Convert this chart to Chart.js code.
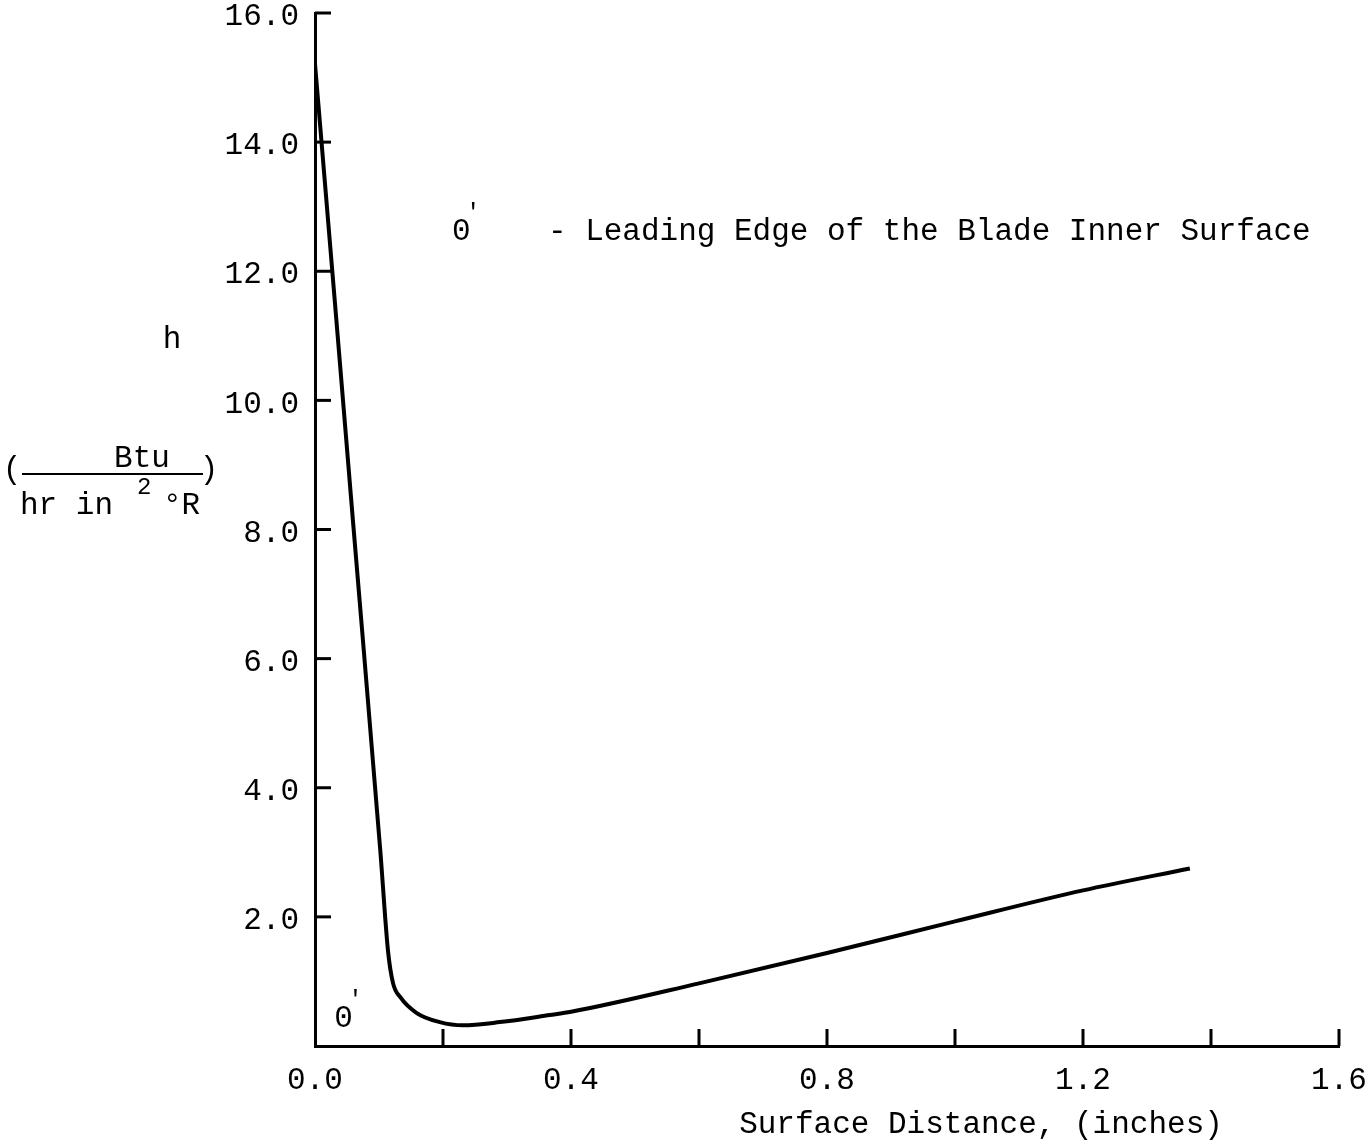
<!DOCTYPE html>
<html lang="en">
<head>
    <meta charset="UTF-8">
    <title>Heat Transfer Coefficient vs Surface Distance</title>
    <script src="https://cdn.jsdelivr.net/npm/chart.js"></script>
    <style>
        html, body { margin: 0; padding: 0; background: #fff; }
        #wrap { width: 1368px; height: 1142px; position: relative; }
    </style>
</head>
<body>
    <div id="wrap"><canvas id="hChart" width="1368" height="1142"></canvas></div>
    <script>
        // Surface distance (inches) and film coefficient h (Btu / hr in^2 °R)
        const surfaceDistance = [0.0, 0.031, 0.06, 0.102, 0.114, 0.122, 0.133, 0.159, 0.195, 0.231, 0.289, 0.367, 0.4, 0.6, 0.8, 1.0, 1.2, 1.367];
        const hValues = [15.21, 11.53, 8.05, 3.03, 1.48, 0.97, 0.76, 0.51, 0.37, 0.32, 0.37, 0.48, 0.53, 0.97, 1.44, 1.93, 2.41, 2.75];

        const xMin = 0, xMax = 1.6, xStep = 0.2;
        const yMin = 0, yMax = 16, yStep = 2;

        const FONT = "'Liberation Mono', 'DejaVu Sans Mono', monospace";
        const FS = 31;      // free text
        const TICK_FS = 31; // tick labels

        const points = surfaceDistance.map((x, i) => ({ x: x, y: hValues[i] }));

        // draws inward tick marks and the free text of the figure
        const extrasPlugin = {
            id: 'extras',
            afterDraw(chart) {
                const { ctx, chartArea, scales } = chart;
                const xs = scales.x, ys = scales.y;
                ctx.save();
                ctx.strokeStyle = '#000';
                ctx.lineWidth = 3;
                // x ticks pointing up into the plot
                for (let v = xMin + xStep; v <= xMax + 1e-9; v += xStep) {
                    const px = xs.getPixelForValue(v);
                    ctx.beginPath();
                    ctx.moveTo(px, chartArea.bottom);
                    ctx.lineTo(px, chartArea.bottom - 17);
                    ctx.stroke();
                }
                // y ticks pointing right
                for (let v = yMin + yStep; v <= yMax + 1e-9; v += yStep) {
                    const py = ys.getPixelForValue(v);
                    ctx.beginPath();
                    ctx.moveTo(chartArea.left, py);
                    ctx.lineTo(chartArea.left + 16, py);
                    ctx.stroke();
                }

                ctx.fillStyle = '#000';
                ctx.font = FS + 'px ' + FONT;
                ctx.textBaseline = 'alphabetic';

                // annotation
                const ax = xs.getPixelForValue(0.214), ay = ys.getPixelForValue(12.49);
                ctx.textAlign = 'left';
                ctx.fillText('0', ax, ay);
                ctx.font = '24px ' + FONT;
                ctx.fillText("'", ax + 14, ay - 20);
                ctx.font = FS + 'px ' + FONT;
                ctx.fillText('- Leading Edge of the Blade Inner Surface', ax + 96, ay);

                // 0' marker at the leading edge
                const mx = xs.getPixelForValue(0.03), my = ys.getPixelForValue(0.3);
                ctx.fillText('0', mx, my);
                ctx.font = '24px ' + FONT;
                ctx.fillText("'", mx + 14, my - 20);
                ctx.font = FS + 'px ' + FONT;

                // y axis label
                ctx.textAlign = 'center';
                ctx.fillText('h', 172, 348);
                ctx.fillText('Btu', 142, 467);
                ctx.fillText('(', 12, 478);
                ctx.fillText(')', 209, 478);
                ctx.textAlign = 'left';
                ctx.fillText('hr in', 20, 514);
                ctx.font = '24px ' + FONT;
                ctx.fillText('2', 137, 494);
                ctx.font = FS + 'px ' + FONT;
                ctx.fillText('\u00B0R', 163, 514);
                ctx.lineWidth = 2;
                ctx.beginPath();
                ctx.moveTo(22, 474);
                ctx.lineTo(203, 474);
                ctx.stroke();

                // x axis label
                ctx.textAlign = 'center';
                ctx.fillText('Surface Distance, (inches)', 981, 1133);
                ctx.restore();
            }
        };

        new Chart(document.getElementById('hChart'), {
            type: 'scatter',
            data: {
                datasets: [{
                    data: points,
                    showLine: true,
                    borderColor: '#000',
                    borderWidth: 4,
                    pointRadius: 0,
                    cubicInterpolationMode: 'monotone'
                }]
            },
            options: {
                responsive: false,
                animation: false,
                layout: { padding: { left: 0, top: 13, right: 29, bottom: 0 } },
                plugins: { legend: { display: false }, tooltip: { enabled: false } },
                scales: {
                    x: {
                        type: 'linear',
                        min: xMin, max: xMax,
                        afterFit(scale) {
                            scale.height = 96;
                            scale.paddingLeft = 0;
                            scale.paddingRight = 0;
                        },
                        grid: { drawOnChartArea: false, drawTicks: false },
                        border: { display: true, color: '#000', width: 3 },
                        ticks: {
                            stepSize: xStep,
                            autoSkip: false,
                            maxRotation: 0,
                            padding: 16,
                            color: '#000',
                            font: { family: FONT, size: TICK_FS },
                            callback: v => (Math.round(v * 10) % 4 === 0 ? v.toFixed(1) : '')
                        }
                    },
                    y: {
                        type: 'linear',
                        min: yMin, max: yMax,
                        afterFit(scale) {
                            scale.width = 315;
                            scale.paddingTop = 0;
                            scale.paddingBottom = 0;
                        },
                        grid: { drawOnChartArea: false, drawTicks: false },
                        border: { display: true, color: '#000', width: 3 },
                        ticks: {
                            stepSize: yStep,
                            padding: 16,
                            labelOffset: 4,
                            color: '#000',
                            font: { family: FONT, size: TICK_FS },
                            callback: v => (v === 0 ? '' : v.toFixed(1))
                        }
                    }
                }
            },
            plugins: [extrasPlugin]
        });
    </script>
</body>
</html>
